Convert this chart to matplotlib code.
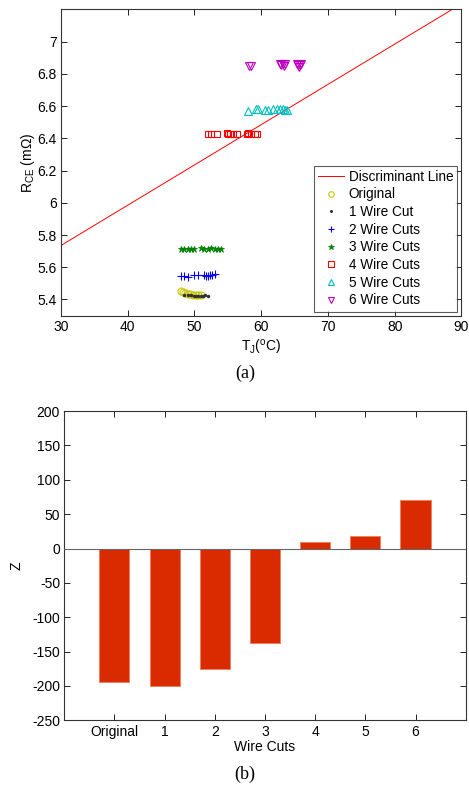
import matplotlib
matplotlib.use("Agg")
import matplotlib.pyplot as plt

plt.rcParams['font.family'] = ['Liberation Sans', 'DejaVu Sans']
plt.rcParams['mathtext.fontset'] = 'custom'
plt.rcParams['mathtext.rm'] = 'Liberation Sans'
plt.rcParams['mathtext.it'] = 'Liberation Sans'
plt.rcParams['axes.unicode_minus'] = False

# --- (a) scatter data ---
line_x = [30, 90]
line_y = [5.735, 7.235]

orig_x = [48.0, 48.3, 48.6, 49.0, 49.4, 49.8, 50.2, 50.6, 51.0]
orig_y = [5.45, 5.445, 5.44, 5.435, 5.435, 5.425, 5.43, 5.43, 5.425]

cut1_x = [48.5, 49.0, 49.5, 50.0, 50.3, 50.6, 51.0, 51.3, 51.6, 52.0]
cut1_y = [5.43, 5.425, 5.425, 5.42, 5.42, 5.42, 5.42, 5.42, 5.425, 5.42]

cut2_x = [48.0, 48.5, 49.0, 50.0, 50.5, 51.5, 51.8, 52.0, 52.3, 52.6, 53.0]
cut2_y = [5.545, 5.545, 5.54, 5.55, 5.55, 5.55, 5.545, 5.545, 5.55, 5.55, 5.555]

cut3_x = [48.0, 48.5, 49.0, 49.5, 50.0, 51.0, 51.5, 52.0, 52.5, 53.0, 53.5, 54.0]
cut3_y = [5.715, 5.715, 5.715, 5.715, 5.715, 5.72, 5.715, 5.715, 5.72, 5.715, 5.715, 5.715]

cut4_x = [52.0, 52.5, 53.3, 54.8, 55.0, 55.3, 55.7, 56.3, 57.8, 58.0, 58.5, 59.0, 59.3]
cut4_y = [6.43, 6.43, 6.43, 6.435, 6.425, 6.43, 6.43, 6.43, 6.43, 6.435, 6.43, 6.425, 6.43]

cut5_x = [58.0, 59.2, 59.5, 60.5, 61.0, 61.8, 62.3, 62.8, 63.2, 63.5, 63.8]
cut5_y = [6.57, 6.58, 6.58, 6.575, 6.575, 6.58, 6.58, 6.58, 6.58, 6.575, 6.575]

cut6_x = [58.2, 58.4, 62.8, 63.0, 63.2, 63.4, 63.6, 65.3, 65.5, 65.6, 65.8, 66.0]
cut6_y = [6.85, 6.85, 6.86, 6.855, 6.86, 6.85, 6.86, 6.86, 6.855, 6.845, 6.855, 6.86]

# --- (b) bar data ---
categories = ['Original', '1', '2', '3', '4', '5', '6']
z_values = [-194, -200, -176, -138, 10, 17.5, 70.5]

fig = plt.figure(figsize=(4.69, 7.87), dpi=100)

# panel (a)
ax1 = fig.add_axes([0.130, 0.599, 0.854, 0.389])
ax1.plot(line_x, line_y, color='red', lw=0.7, label='Discriminant Line')
ax1.plot(orig_x, orig_y, 'o', mfc='none', mec='#c8c800', ms=5, mew=0.8, label='Original')
ax1.plot(cut1_x, cut1_y, '.', color='#333333', ms=3, label='1 Wire Cut')
ax1.plot(cut2_x, cut2_y, '+', color='blue', ms=6, mew=0.8, label='2 Wire Cuts')
ax1.plot(cut3_x, cut3_y, '*', color='green', ms=5, mew=0.5, label='3 Wire Cuts')
ax1.plot(cut4_x, cut4_y, 's', mfc='none', mec='red', ms=5, mew=0.8, label='4 Wire Cuts')
ax1.plot(cut5_x, cut5_y, '^', mfc='none', mec='#00bfbf', ms=6, mew=0.8, label='5 Wire Cuts')
ax1.plot(cut6_x, cut6_y, 'v', mfc='none', mec='#bf00bf', ms=6, mew=0.8, label='6 Wire Cuts')
ax1.set_xlim(30, 90)
ax1.set_ylim(5.3, 7.2)
ax1.set_xticks(range(30, 91, 10))
ax1.set_yticks([5.4, 5.6, 5.8, 6.0, 6.2, 6.4, 6.6, 6.8, 7.0])
ax1.set_yticklabels(['5.4', '5.6', '5.8', '6', '6.2', '6.4', '6.6', '6.8', '7'])
ax1.set_xlabel(r'T$_J$($^\mathregular{o}$C)', fontsize=10, labelpad=3)
ax1.set_ylabel(r'R$_{CE}$ (m$\Omega$)', fontsize=10, labelpad=0)
leg = ax1.legend(loc='lower right', fontsize=9.8, frameon=True, fancybox=False,
                 edgecolor='#333333', borderaxespad=0.3, handlelength=1.9,
                 handletextpad=0.35, labelspacing=0.27, borderpad=0.3,
                 markerscale=0.8)
leg.get_frame().set_linewidth(0.8)
fig.text(0.522, 0.526, '(a)', family='Liberation Serif', fontsize=13, ha='center', va='center')

# panel (b)
ax2 = fig.add_axes([0.137, 0.0847, 0.856, 0.393])
pos = list(range(1, len(categories) + 1))
ax2.bar(pos, z_values, width=0.6, color='#d92a00', edgecolor='#f08060', linewidth=0.7, zorder=2)
ax2.axhline(0, color='#666666', lw=0.8, zorder=3)
ax2.set_xlim(0, 8)
ax2.set_ylim(-250, 200)
ax2.set_xticks(pos)
ax2.set_xticklabels(categories)
ax2.set_yticks(range(-250, 201, 50))
ax2.set_xlabel('Wire Cuts', fontsize=10, labelpad=1)
ax2.set_ylabel('Z', fontsize=10, labelpad=6)
fig.text(0.522, 0.016, '(b)', family='Liberation Serif', fontsize=13, ha='center', va='center')

for ax in (ax1, ax2):
    ax.tick_params(direction='in', top=True, right=True, labelsize=10, length=4, width=0.6, pad=3)
    for s in ax.spines.values():
        s.set_linewidth(0.8)
        s.set_color('#333333')

fig.savefig('out.png', dpi=100)
